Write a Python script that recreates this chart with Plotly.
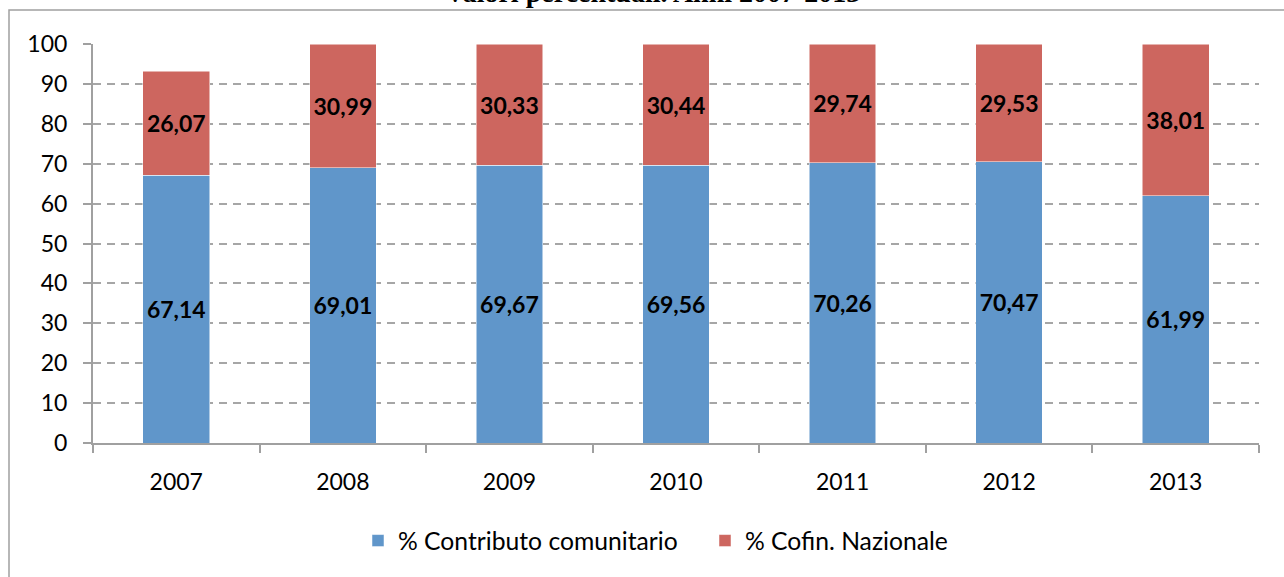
import plotly.graph_objects as go

years = ["2007", "2008", "2009", "2010", "2011", "2012", "2013"]
contributo = [67.14, 69.01, 69.67, 69.56, 70.26, 70.47, 61.99]
cofin = [26.07, 30.99, 30.33, 30.44, 29.74, 29.53, 38.01]
y_ticks = [0, 10, 20, 30, 40, 50, 60, 70, 80, 90, 100]

W, H = 1284, 577
L, R, T, B = 93, 25, 44, 134
FONT = "Lato"

def px_to_paper_x(p):
    return (p - L) / (W - L - R)

def px_to_paper_y(p):
    return (H - B - p) / (H - B - T)

fig = go.Figure()
fig.add_trace(go.Bar(
    x=years, y=contributo, name="% Contributo comunitario",
    marker=dict(color="#6096CA", line=dict(color="#ffffff", width=0.5)),
    texttemplate="%{y:.2f}", textposition="inside", insidetextanchor="middle",
    textfont=dict(family=FONT, size=23, color="black", weight="bold"),
    constraintext="none",
))
fig.add_trace(go.Bar(
    x=years, y=cofin, name="% Cofin. Nazionale",
    marker=dict(color="#CD665F", line=dict(color="#ffffff", width=0.5)),
    texttemplate="%{y:.2f}", textposition="inside", insidetextanchor="middle",
    textfont=dict(family=FONT, size=23, color="black", weight="bold"),
    constraintext="none",
))

fig.update_layout(
    width=W, height=H,
    margin=dict(l=L, r=R, t=T, b=B, pad=0),
    barmode="stack", bargap=0.6,
    separators=",.",
    paper_bgcolor="white", plot_bgcolor="white",
    font=dict(family=FONT, size=23, color="black"),
    showlegend=True,
    legend=dict(orientation="h", x=px_to_paper_x(358), xanchor="left",
                y=px_to_paper_y(541), yanchor="middle",
                font=dict(family=FONT, size=24.7, color="black"),
                traceorder="normal", itemwidth=30, entrywidth=302, entrywidthmode="pixels"),
    xaxis=dict(
        type="category", showgrid=False, showline=True, linecolor="#a0a0a0", linewidth=2,
        ticks="outside", ticklen=8, tickcolor="#a0a0a0", tickwidth=2, tickson="boundaries",
        ticklabelstandoff=17,
        tickfont=dict(family=FONT, size=23, color="black"), zeroline=False,
    ),
    yaxis=dict(
        range=[0, 100], tickvals=y_ticks, showgrid=True, gridcolor="#a6a6a6", gridwidth=2,
        griddash="8px,6px", showline=True, linecolor="#a0a0a0", linewidth=2,
        ticks="outside", ticklen=8, tickcolor="#a0a0a0", tickwidth=2,
        ticklabelstandoff=11,
        tickfont=dict(family=FONT, size=23, color="black"), zeroline=False,
    ),
    shapes=[dict(type="rect", xref="paper", yref="paper",
                 x0=px_to_paper_x(9), x1=px_to_paper_x(1320),
                 y0=px_to_paper_y(620), y1=px_to_paper_y(10),
                 line=dict(color="#a0a0a0", width=1.5), fillcolor="rgba(0,0,0,0)", layer="below")],
    annotations=[dict(text="Valori percentuali. Anni 2007-2013", xref="paper", yref="paper",
                      x=px_to_paper_x(652), y=px_to_paper_y(-7), xanchor="center", yanchor="middle",
                      showarrow=False,
                      font=dict(family="Liberation Serif", size=28, color="black", weight="bold"))],
)

fig.write_html("out.html", config={"displayModeBar": False},
               post_script="document.body.style.margin='0';")
